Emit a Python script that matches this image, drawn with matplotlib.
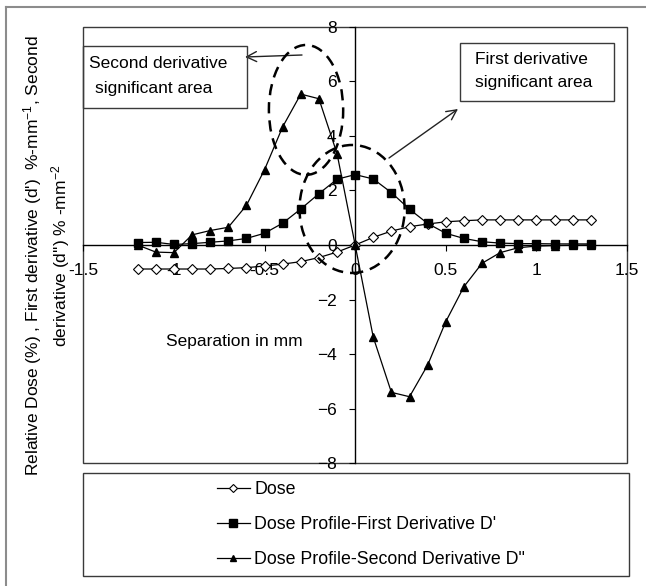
import numpy as np
import matplotlib
matplotlib.use("Agg")
import matplotlib.pyplot as plt
from matplotlib.patches import Rectangle, Ellipse
from matplotlib.lines import Line2D

plt.rcParams['font.family'] = ['Liberation Sans', 'DejaVu Sans']
plt.rcParams['mathtext.fontset'] = 'custom'
plt.rcParams['mathtext.rm'] = 'Liberation Sans'
plt.rcParams['mathtext.it'] = 'Liberation Sans'

# ---------------- data ----------------
separation = [-1.2, -1.1, -1.0, -0.9, -0.8, -0.7, -0.6, -0.5, -0.4, -0.3, -0.2, -0.1,
              0.0, 0.1, 0.2, 0.3, 0.4, 0.5, 0.6, 0.7, 0.8, 0.9, 1.0, 1.1, 1.2, 1.3]

dose = [-0.88, -0.88, -0.88, -0.88, -0.88, -0.86, -0.83, -0.77, -0.70, -0.61, -0.46, -0.26,
        0.0, 0.28, 0.51, 0.67, 0.77, 0.85, 0.89, 0.92, 0.92, 0.92, 0.92, 0.92, 0.92, 0.92]

first_deriv = [0.09, 0.10, 0.02, 0.05, 0.10, 0.15, 0.24, 0.43, 0.80, 1.32, 1.88, 2.41,
               2.58, 2.42, 1.92, 1.31, 0.79, 0.43, 0.24, 0.12, 0.07, 0.05, 0.05, 0.04, 0.04, 0.04]

second_deriv = [0.0, -0.26, -0.28, 0.37, 0.53, 0.65, 1.45, 2.76, 4.33, 5.53, 5.36, 3.35,
                0.0, -3.38, -5.40, -5.56, -4.40, -2.81, -1.53, -0.67, -0.28, -0.10, -0.04, -0.02, -0.01, 0.0]

labels = ["Dose", "Dose Profile-First Derivative D'", 'Dose Profile-Second Derivative D"']

W, H = 646, 586


def fpos(x, y):
    # pixel position (from top-left) -> figure fraction
    return (x / W, 1 - y / H)


fig = plt.figure(figsize=(W / 100, H / 100), dpi=100)
ax = fig.add_axes([83.3 / W, 1 - 463.3 / H, (627 - 83.3) / W, (463.3 - 26.7) / H])

l1, = ax.plot(separation, dose, color='black', lw=0.9, marker='D', ms=5,
              mfc='white', mec='black', mew=0.8, zorder=3)
l2, = ax.plot(separation, first_deriv, color='black', lw=0.9, marker='s', ms=6.2,
              mfc='black', mec='black', zorder=3)
l3, = ax.plot(separation, second_deriv, color='black', lw=0.9, marker='^', ms=5.5,
              mfc='black', mec='black', zorder=3)

ax.set_xlim(-1.5, 1.5)
ax.set_ylim(-8, 8)
ax.set_xticks([-1.5, -1, -0.5, 0, 0.5, 1, 1.5])
ax.set_xticklabels(["-1.5", "-1", "-0.5", "0", "0.5", "1", "1.5"])
ax.set_yticks(np.arange(-8, 9, 2))

# axes cross at zero, plot area has its own border
ax.spines['left'].set_position(('data', 0))
ax.spines['bottom'].set_position(('data', 0))
ax.spines['top'].set_visible(False)
ax.spines['right'].set_visible(False)
for s in ['left', 'bottom']:
    ax.spines[s].set_linewidth(1.0)
    ax.spines[s].set_color('black')
ax.add_patch(Rectangle((0, 0), 1, 1, transform=ax.transAxes, fill=False,
                       ec='#3a3a3a', lw=1.0, clip_on=False, zorder=1))

ax.tick_params(axis='x', direction='out', length=4.3, width=0.8, pad=8.5, labelsize=12.5)
ax.tick_params(axis='y', direction='out', length=4.3, width=0.8, pad=9, labelsize=12.5)

ax.text(-0.666, -3.55, "Separation in mm", ha='center', va='center', fontsize=12.5)

# y axis title
fig.text(46.5 / W, 1 - 256 / H,
         "Relative Dose (%) , First derivative (d')  %-mm$^{-1}$, Second\n"
         "derivative (d'') % -mm$^{-2}$",
         rotation=90, ha='center', va='center', multialignment='center',
         fontsize=12.5, linespacing=1.25)

# dashed ellipses marking the significant areas
ax.add_patch(Ellipse((-0.271, 4.95), 0.41, 4.76, angle=0, fill=False, ec='black',
                     lw=1.8, ls=(0, (4.5, 2.8)), zorder=4))
ax.add_patch(Ellipse((-0.017, 1.32), 0.58, 4.69, angle=0, fill=False, ec='black',
                     lw=1.8, ls=(0, (4.5, 2.8)), zorder=4))

# annotation boxes
fig.add_artist(Rectangle(fpos(82.7, 108), (247.3 - 82.7) / W, (108 - 46) / H,
                         transform=fig.transFigure, fill=False, ec='#3a3a3a', lw=1.0))
fig.text(*fpos(89, 63), "Second derivative", ha='left', va='center', fontsize=12.5)
fig.text(*fpos(95, 88), "significant area", ha='left', va='center', fontsize=12.5)

fig.add_artist(Rectangle(fpos(460.3, 100.7), (614.3 - 460.3) / W, (100.7 - 42.7) / H,
                         transform=fig.transFigure, fill=False, ec='#3a3a3a', lw=1.0))
fig.text(*fpos(474.7, 60), "First derivative", ha='left', va='center', fontsize=12.5)
fig.text(*fpos(474.7, 82), "significant area", ha='left', va='center', fontsize=12.5)

ax.annotate('', xy=fpos(245, 57), xytext=fpos(302, 55), xycoords='figure fraction',
            textcoords='figure fraction',
            arrowprops=dict(arrowstyle='->', lw=1.0, color='#222222', mutation_scale=18,
                            shrinkA=0, shrinkB=0))
ax.annotate('', xy=fpos(458, 109), xytext=fpos(389, 158), xycoords='figure fraction',
            textcoords='figure fraction',
            arrowprops=dict(arrowstyle='->', lw=1.0, color='#222222', mutation_scale=18,
                            shrinkA=0, shrinkB=0))

# legend box under the chart
fig.add_artist(Rectangle(fpos(83.3, 576), (629.3 - 83.3) / W, (576 - 472.7) / H,
                         transform=fig.transFigure, fill=False, ec='#3a3a3a', lw=1.0))
h1 = Line2D([], [], color='black', lw=0.9, marker='D', ms=4, mfc='white', mec='black', mew=0.8)
h2 = Line2D([], [], color='black', lw=0.9, marker='s', ms=6, mfc='black', mec='black')
h3 = Line2D([], [], color='black', lw=0.9, marker='^', ms=5, mfc='black', mec='black')
fig.legend([h1, h2, h3], labels, loc='upper left', bbox_to_anchor=fpos(217, 481),
           frameon=False, fontsize=12.8, handlelength=1.85, handletextpad=0.25,
           labelspacing=1.02, borderpad=0, borderaxespad=0)

# outer border of the picture
fig.add_artist(Line2D([6 / W, 6 / W], [0, 1 - 7 / H], transform=fig.transFigure,
                      color='#8c8c8c', lw=1.5))
fig.add_artist(Line2D([6 / W, 1], [1 - 7 / H, 1 - 7 / H], transform=fig.transFigure,
                      color='#8c8c8c', lw=1.5))

fig.savefig("out.png", dpi=100)
